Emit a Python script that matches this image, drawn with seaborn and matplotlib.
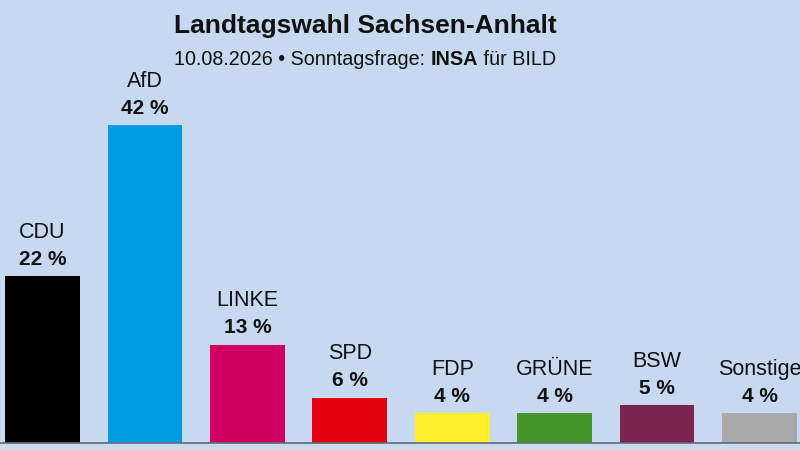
import matplotlib
matplotlib.use("Agg")
import matplotlib.pyplot as plt
import seaborn as sns
import pandas as pd

parties = ["CDU", "AfD", "LINKE", "SPD", "FDP", "GRÜNE", "BSW", "Sonstige"]
values = [22, 42, 13, 6, 4, 4, 5, 4]
colors = ["#000000", "#009ee0", "#d10060", "#e3000f", "#ffed2e", "#46962b", "#7b2450", "#a9a9a9"]
title = "Landtagswahl Sachsen-Anhalt"
subtitle_parts = [("10.08.2026 • Sonntagsfrage: ", "normal"), ("INSA", "bold"), (" für BILD", "normal")]

bg = "#c6d9f0"
sns.set_theme(style="white")
plt.rcParams["font.family"] = ["Liberation Sans", "DejaVu Sans"]

df = pd.DataFrame({"party": parties, "value": values})

fig = plt.figure(figsize=(8, 4.5), dpi=100, facecolor=bg)
ax = fig.add_axes([0, 0, 1, 1])
ax.set_facecolor(bg)
sns.barplot(data=df, x="party", y="value", hue="party", palette=colors,
            order=parties, hue_order=parties, width=0.73, legend=False,
            saturation=1, ax=ax, edgecolor="none")
ax.set_xlim(-0.415, 7.395)
ax.set_ylim(-0.92, 58.5)
ax.axis("off")
ax.axhline(-0.05, color="#5f6b7a", lw=1.2, zorder=5)
ax.axhspan(-0.92, -0.12, color="#ccdaec", zorder=4, lw=0)

for i, (p, v) in enumerate(zip(parties, values)):
    ax.annotate(f"{v} %", xy=(i, v), xytext=(0, 8), textcoords="offset points",
                ha="center", va="baseline", fontsize=15, fontweight="bold", color="#111111")
    ax.annotate(p, xy=(i, v), xytext=(0, 27.5), textcoords="offset points",
                ha="center", va="baseline", fontsize=15.5, color="#111111")

fig.text(365 / 800, 1 - 33 / 450, title, ha="center", va="baseline",
         fontsize=19, fontweight="bold", color="#111111")

# subtitle with mixed weights, centered at x=365px
renderer = fig.canvas.get_renderer()
texts = []
for s, w in subtitle_parts:
    t = fig.text(0, 1 - 65 / 450, s, ha="left", va="baseline", fontsize=14.2,
                 fontweight=w, color="#111111")
    texts.append(t)
widths = [t.get_window_extent(renderer).width for t in texts]
total = sum(widths)
x0 = 365 - total / 2
for t, w in zip(texts, widths):
    t.set_x(x0 / 800)
    x0 += w

fig.savefig("out.png", dpi=100, facecolor=bg)
